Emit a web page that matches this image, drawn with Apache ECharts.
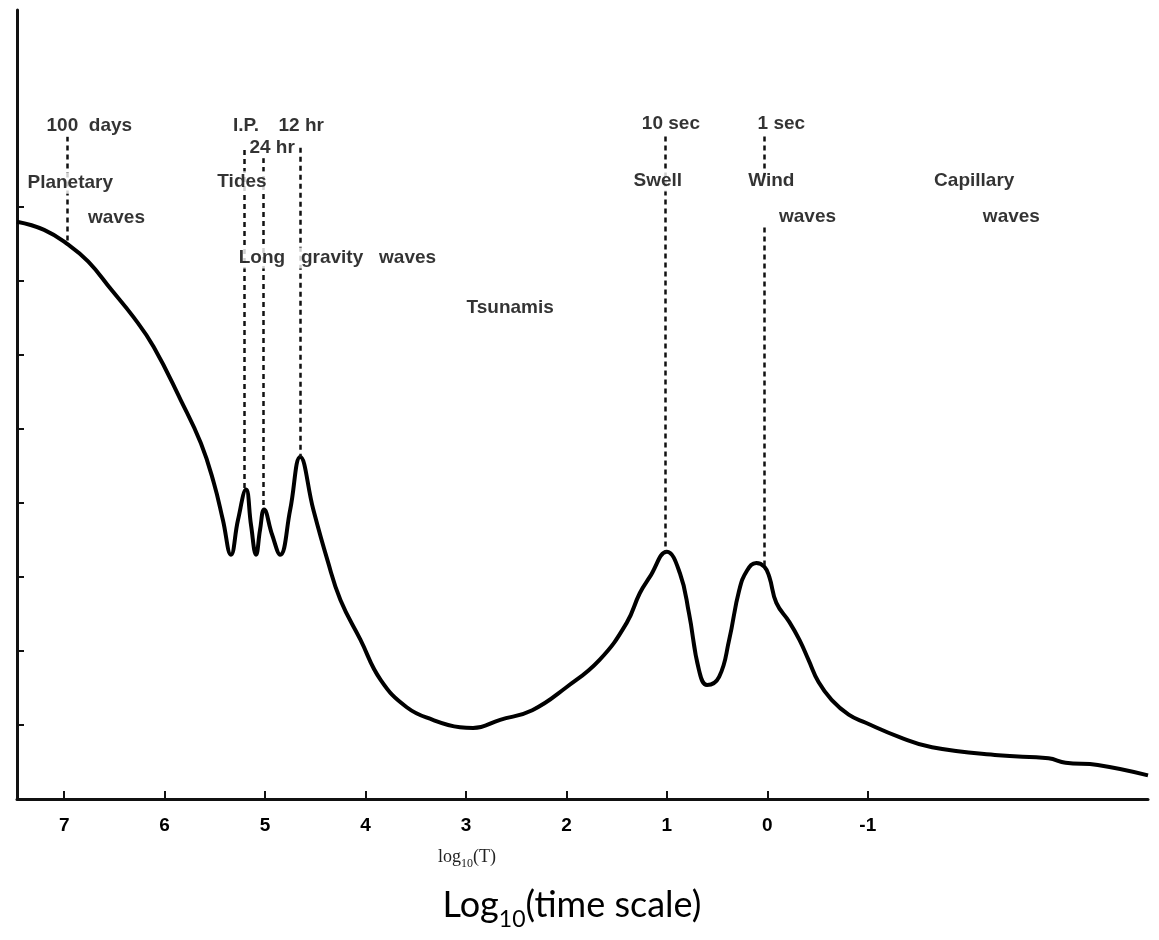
<!DOCTYPE html>
<html>
<head>
<meta charset="utf-8">
<script src="https://cdn.jsdelivr.net/npm/echarts@6/dist/echarts.min.js"></script>
<style>
html,body{margin:0;padding:0;background:#fff;}
#chart{width:1159px;height:940px;}
</style>
</head>
<body>
<div id="chart"></div>
<script>
// Spectrum curve: log10(T) vs relative energy (arbitrary units)
const logT = [7.47, 7.20, 6.96, 6.76, 6.53, 6.31, 6.11, 5.84, 5.64, 5.51, 5.42, 5.34, 5.27, 5.19, 5.14, 5.09, 5.05, 5.01, 4.93, 4.85, 4.75, 4.65, 4.52, 4.38, 4.25, 4.05, 3.85, 3.59, 3.33, 3.06, 2.93, 2.66, 2.34, 2.00, 1.67, 1.40, 1.27, 1.17, 1.00, 0.87, 0.78, 0.68, 0.60, 0.48, 0.38, 0.28, 0.20, 0.11, 0.03, -0.02, -0.09, -0.22, -0.32, -0.41, -0.51, -0.64, -0.81, -0.98, -1.31, -1.64, -2.30, -2.80, -2.97, -3.29, -3.79];
const energy = [7.80, 7.69, 7.49, 7.26, 6.88, 6.51, 6.11, 5.39, 4.81, 4.27, 3.77, 3.30, 3.77, 4.18, 3.70, 3.30, 3.64, 3.91, 3.57, 3.30, 3.91, 4.62, 3.91, 3.23, 2.69, 2.15, 1.61, 1.24, 1.07, 0.97, 0.96, 1.07, 1.20, 1.51, 1.88, 2.38, 2.78, 3.00, 3.34, 3.05, 2.51, 1.74, 1.54, 1.65, 2.15, 2.82, 3.09, 3.19, 3.14, 3.00, 2.65, 2.39, 2.15, 1.88, 1.58, 1.34, 1.14, 1.03, 0.84, 0.70, 0.59, 0.55, 0.49, 0.46, 0.32];

// x-axis ticks and y-axis ticks
const xTicks = [7, 6, 5, 4, 3, 2, 1, 0, -1];
const yTicks = [1, 2, 3, 4, 5, 6, 7, 8];

// Annotation texts and their positions in data units
const noteText = ['100  days', 'Planetary', 'waves', 'I.P.', '12 hr', '24 hr', 'Tides', 'Long   gravity   waves', 'Tsunamis', '10 sec', '1 sec', 'Swell', 'Wind', 'waves', 'Capillary', 'waves'];
const noteX = [6.75, 6.94, 6.48, 5.19, 4.64, 4.93, 5.23, 4.28, 2.56, 0.96, -0.14, 1.09, -0.04, -0.40, -2.06, -2.43];
const noteY = [9.09, 8.32, 7.85, 9.09, 9.09, 8.80, 8.34, 7.31, 6.64, 9.12, 9.12, 8.35, 8.35, 7.86, 8.35, 7.86];

// Dashed marker segments: x position, top and bottom (data units)
const markX = [6.97, 5.21, 5.02, 4.65, 1.02, 0.03, 0.03];
const markTop = [8.95, 8.77, 8.66, 8.80, 8.95, 8.95, 7.72];
const markBottom = [7.49, 4.18, 3.97, 4.62, 3.34, 8.35, 3.16];

const curveData = logT.map((x, i) => [x, energy[i]]);
const noteData = noteText.map((t, i) => ({ name: t, value: [noteX[i], noteY[i]] }));
const markData = markX.map((x, i) => [{ coord: [x, markTop[i]] }, { coord: [x, markBottom[i]] }]);

const chart = echarts.init(document.getElementById('chart'), null, { renderer: 'canvas' });
const labelFont = 'Liberation Sans, Arial, sans-serif';

chart.setOption({
  animation: false,
  backgroundColor: '#ffffff',
  grid: { left: 17, right: 11, top: 10, bottom: 141, containLabel: false },
  xAxis: {
    type: 'value',
    inverse: true,
    min: -3.79,
    max: 7.47,
    splitLine: { show: false },
    axisLine: { onZero: false, lineStyle: { color: '#111', width: 3 } },
    axisTick: { show: true, inside: true, length: 8, customValues: xTicks, lineStyle: { color: '#111', width: 2 } },
    axisLabel: { customValues: xTicks, margin: 17, fontSize: 19, fontWeight: 'bold', color: '#000', fontFamily: labelFont }
  },
  yAxis: {
    type: 'value',
    min: 0,
    max: 10.66,
    splitLine: { show: false },
    axisLine: { show: true, onZero: false, lineStyle: { color: '#111', width: 3 } },
    axisTick: { show: true, inside: true, length: 7, customValues: yTicks, lineStyle: { color: '#111', width: 2 } },
    axisLabel: { show: false, customValues: yTicks }
  },
  series: [
    {
      type: 'line',
      data: [],
      silent: true,
      z: 2,
      markLine: {
        silent: true,
        symbol: ['none', 'none'],
        label: { show: false },
        lineStyle: { color: '#111', width: 2.5, type: [5, 4] },
        data: markData
      }
    },
    {
      type: 'line',
      data: curveData,
      smooth: 0.45,
      symbol: 'none',
      silent: true,
      z: 4,
      lineStyle: { color: '#000', width: 4 }
    },
    {
      type: 'scatter',
      data: noteData,
      symbolSize: 1,
      silent: true,
      z: 6,
      itemStyle: { color: 'rgba(0,0,0,0)' },
      label: {
        show: true,
        position: 'inside',
        formatter: '{b}',
        fontSize: 19,
        fontWeight: 'bold',
        fontFamily: labelFont,
        color: '#000',
        backgroundColor: '#ffffff',
        padding: [1, 2]
      }
    }
  ],
  graphic: [
    {
      type: 'text',
      x: 467,
      y: 857,
      style: {
        text: '{a|log}{s|10}{a|(T)}',
        align: 'center',
        verticalAlign: 'middle',
        rich: {
          a: { fontFamily: 'Liberation Serif, Times New Roman, serif', fontSize: 18, fill: '#222', lineHeight: 26 },
          s: { fontFamily: 'Liberation Serif, Times New Roman, serif', fontSize: 12, fill: '#222', lineHeight: 12, verticalAlign: 'bottom' }
        }
      }
    },
    {
      type: 'text',
      x: 572,
      y: 905,
      style: {
        text: '{a|Log}{s|10}{a|(time scale)}',
        align: 'center',
        verticalAlign: 'middle',
        rich: {
          a: { fontFamily: 'Lato, Carlito, sans-serif', fontSize: 36, fill: '#000', lineHeight: 52 },
          s: { fontFamily: 'Lato, Carlito, sans-serif', fontSize: 23, fill: '#000', lineHeight: 24, verticalAlign: 'bottom' }
        }
      }
    }
  ]
});
</script>
</body>
</html>
